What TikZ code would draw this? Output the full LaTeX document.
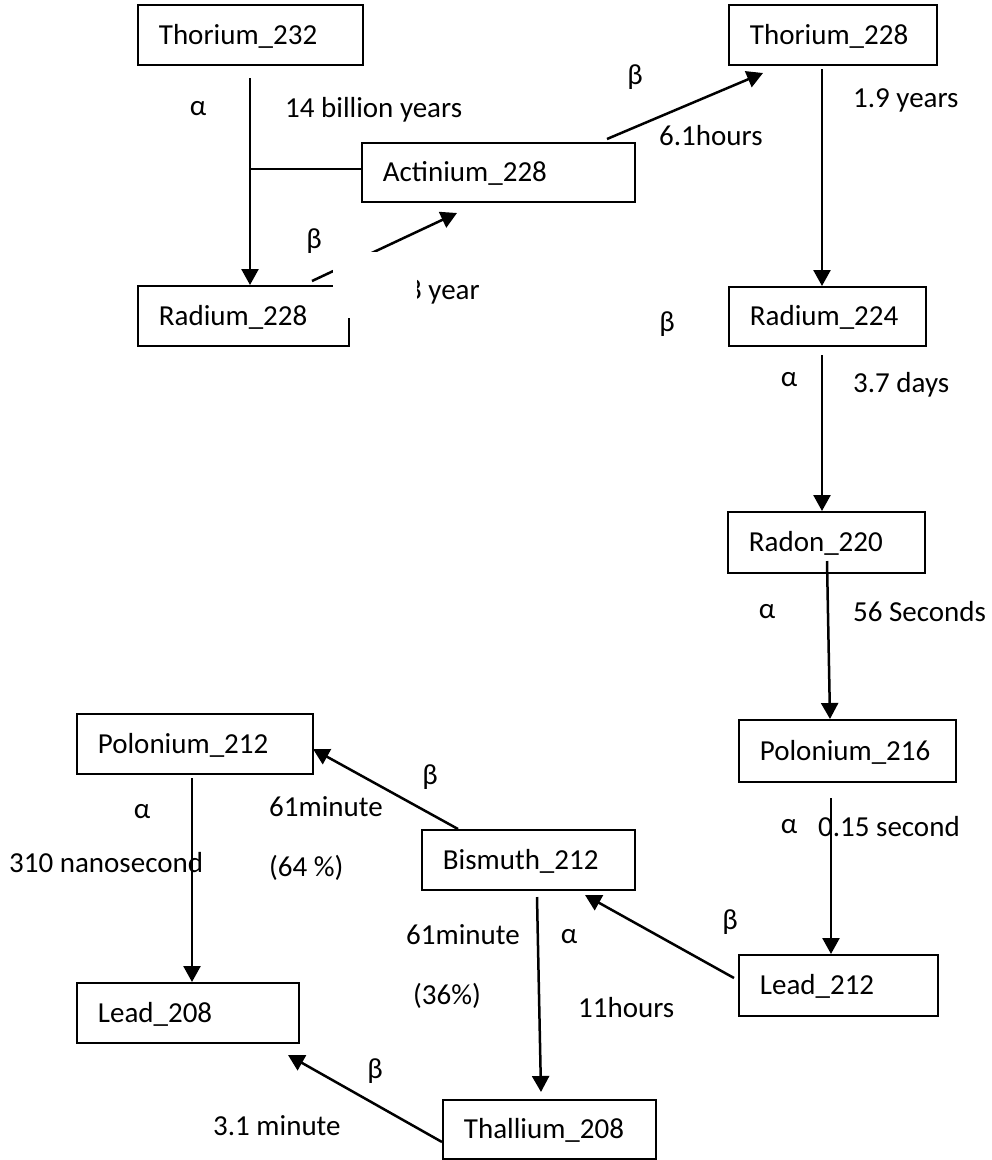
\documentclass[tikz,border=0pt]{standalone}
\usepackage{fontspec}
\setmainfont{Carlito}
\usetikzlibrary{arrows.meta}
\begin{document}
\begin{tikzpicture}[x=1pt,y=-1pt,
  every node/.style={font=\fontsize{29}{35}\selectfont},
  box/.style n args={3}{draw, line width=1.8pt, anchor=north west, minimum width=#1, minimum height=#2, text width=#3, align=left, inner xsep=21pt, inner ysep=0pt, text height=18.6pt, text depth=0pt},
  lbl/.style={anchor=west, inner sep=0pt, text height=18.6pt, text depth=0pt},
  ga/.style={inner sep=0pt, text height=13.3pt, text depth=0pt},
  gb/.style={inner sep=0pt, text height=20pt, text depth=5.8pt},
  arr/.style={line width=2.5pt, -{Triangle[length=16pt,width=17pt]}},
  conn/.style={line width=1.7pt}]
\fill[white] (0,0) rectangle (992,1160);
\useasboundingbox (0,0) rectangle (992,1160);

% boxes
\node[box={225pt}{60pt}{183pt}] (t232) at (137,4) {Thorium\_232};
\node[box={273pt}{59pt}{231pt}] (ac228) at (361,142) {Actinium\_228};
\node[box={211pt}{60pt}{169pt}] (r228) at (137,285) {Radium\_228};
\node[box={208pt}{60pt}{166pt}] (t228) at (728,4) {Thorium\_228};
\node[box={197pt}{59pt}{155pt}] (r224) at (728,286) {Radium\_224};
\node[box={197pt}{61pt}{155pt}] (rn220) at (727,511) {Radon\_220};
\node[box={217pt}{62pt}{175pt}] (p216) at (738,719) {Polonium\_216};
\node[box={199pt}{61pt}{157pt}] (l212) at (738,954) {Lead\_212};
\node[box={213pt}{60pt}{171pt}] (b212) at (421,829) {Bismuth\_212};
\node[box={236pt}{60pt}{194pt}] (p212) at (76,713) {Polonium\_212};
\node[box={222pt}{60pt}{180pt}] (l208) at (76,982) {Lead\_208};
\node[box={213pt}{59pt}{171pt}] (tl208) at (442,1099) {Thallium\_208};

% connector end points
\coordinate (s1) at (250,78);
\coordinate (j1) at (250,169);
\coordinate (s3) at (312,281);
\coordinate (e3) at (457,213);
\coordinate (s4) at (607,139);
\coordinate (e4) at (763,73);
\coordinate (s5) at (822,69);
\coordinate (s6) at (822,355);
\coordinate (s7) at (827,561);
\coordinate (e7) at (830,719);
\coordinate (s8) at (831,798);
\coordinate (s9) at (734,978);
\coordinate (e9) at (585,895);
\coordinate (s10) at (458,829);
\coordinate (e10) at (313,749);
\coordinate (s11) at (192,778);
\coordinate (s12) at (537,897);
\coordinate (e12) at (541,1092);
\coordinate (s13) at (442,1142);
\coordinate (e13) at (288,1055);

% connectors
\draw[arr] (s1) -- (s1 |- r228.north);
\draw[conn] (j1) -- (j1 -| ac228.west);
\draw[arr] (s3) -- (e3);
\draw[arr] (s4) -- (e4);
\draw[arr] (s5) -- (s5 |- r224.north);
\draw[arr] (s6) -- (s6 |- rn220.north);
\draw[arr] (s7) -- (e7);
\draw[arr] (s8) -- (s8 |- l212.north);
\draw[arr] (s9) -- (e9);
\draw[arr] (s10) -- (e10);
\draw[arr] (s11) -- (s11 |- l208.north);
\draw[arr] (s12) -- (e12);
\draw[arr] (s13) -- (e13);

% labels
\node[ga] (a1) at (198,109) {α};
\node[lbl] (h1) at (285,108) {14 billion years};
\node[gb] (b1) at (314,241) {β};
\node[lbl] (h2) at (385,290) {5.8 year};
\node[gb] (b2) at (635,77) {β};
\node[lbl] (h3) at (659,136) {6.1hours};
\node[lbl] (h4) at (853,98) {1.9 years};
\node[gb] (b3) at (667,324) {β};
\node[ga] (a2) at (789,380) {α};
\node[lbl] (h5) at (853,383) {3.7 days};
\node[ga] (a3) at (767,612) {α};
\node[lbl] (h6) at (853,612) {56 Seconds};
\node[ga] (a4) at (789,827) {α};
\node[lbl] (h7) at (818,827) {0.15 second};
\node[gb] (b4) at (730,922) {β};
\node[ga] (a5) at (569,937) {α};
\node[lbl] (h8) at (406,935) {61minute};
\node[lbl] (h9) at (413,995) {(36\%)};
\node[lbl] (h10) at (578,1008) {11hours};
\node[gb] (b5) at (430,777) {β};
\node[lbl] (h11) at (269,807) {61minute};
\node[lbl] (h12) at (269,867) {(64 \%)};
\node[ga] (a6) at (142,812) {α};
\node[lbl] (h13) at (9,863) {310 nanosecond};
\node[gb] (b6) at (375,1071) {β};
\node[lbl] (h14) at (213,1126) {3.1 minute};

% white patch covering part of the drawing
\fill[white] (333,252) rectangle (417,318);
\end{tikzpicture}
\end{document}
